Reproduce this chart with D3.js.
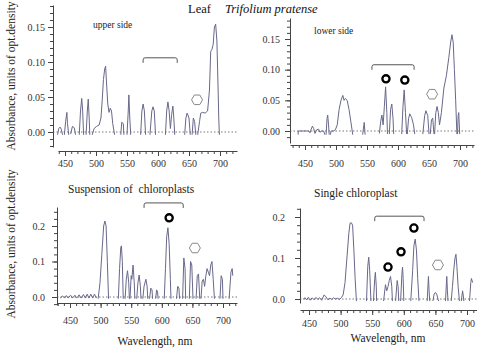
<!DOCTYPE html>
<html><head><meta charset="utf-8">
<script src="https://cdn.jsdelivr.net/npm/d3@7"></script>
<style>body{margin:0;background:#fff}svg{display:block}text{font-family:"Liberation Serif","DejaVu Serif",serif}</style>
</head><body>
<svg id="c" width="477" height="351"></svg>
<script>
// ---------- DATA ----------
const xTickValues = [450, 500, 550, 600, 650, 700];
const yTicksTop = [0, 0.05, 0.10, 0.15];
const yTicksBottom = [0, 0.1, 0.2];

// Leaf, upper side: [wavelength nm, absorbance], null = gap
const upperSide = [
 [438,-.004],[440,.005],[442,.007],[444,.004],[446,-.004],null,
 [449,-.004],[451,.015],[453,.028],[454,.012],[456,-.004],null,
 [459,-.003],[462,.008],[465,.006],[467,-.004],null,
 [473,-.004],[475,.03],[477,.048],[478.5,.03],[480,-.004],null,
 [484,-.004],[486,.03],[487.5,.047],[489,.02],[490,-.004],null,
 [494,-.004],[497,.005],[501,.008],[505,.01],[508,.02],[510,.045],[512,.075],[514,.09],[515.5,.094],[517,.07],[519,.04],[521,.028],[523,.034],[525,.03],[527,.012],[530,-.004],null,
 [540,-.004],[541.5,.014],[544,.012],[545,-.004],null,
 [550,-.004],[552,.03],[553,.053],[554.5,.02],[556,-.004],null,
 [572,-.004],[574,.03],[576,.04],[578,.03],[580,-.004],null,
 [587,-.004],[590,.03],[592,.036],[594,.03],[596,-.004],null,
 [612,-.004],[614,.03],[616,.043],[618,.03],[620,.005],[622,.025],[624,.037],[625.5,.02],[627,-.004],null,
 [643,-.004],[645,.02],[647,.027],[650,.02],[652,-.004],null,
 [655,-.004],[657,.02],[659,.015],[661,-.004],null,
 [664,-.004],[667,.015],[669,.027],[672,.028],[676,.027],[680,.03],[683,.06],[685,.115],[687,.118],[689,.125],[691,.15],[693,.154],[695,.13],[697,.06],[698,.02],[699,-.004]
];

// Leaf, lower side
const lowerSide = [
 [439,-.006],[439,0],[445,0],[452,0],[456,0],[458,-.003],[460,.003],[462,.008],[464,.004],[466,-.004],[469,.002],[472,.003],[474,-.002],[477,0],[480,0],[482,-.006],null,
 [484,-.006],[485.5,.02],[486.6,.026],[488,.01],[489,-.006],null,
 [491,-.006],[492,0],[496,0],[499,.002],[502,.01],[505,.035],[508,.05],[511,.058],[513,.05],[515,.053],[518,.05],[521,.035],[524,.015],[527,-.006],null,
 [543,-.006],[545.5,.014],[547,-.006],null,
 [570,-.004],[572,.015],[574,.026],[576,.01],[578,.04],[580,.072],[582,.03],[583,-.005],null,
 [586,-.005],[588,.035],[590,.044],[592,.02],[593,-.005],null,
 [606,-.005],[608,.04],[610,.067],[612,.03],[614,-.005],null,
 [615,-.005],[617,.02],[619,.028],[622,.022],[625,.01],[627,-.005],null,
 [640,-.005],[643,.025],[645,.033],[648,.025],[650,-.005],null,
 [652,-.005],[654,.018],[656,.021],[658,-.005],null,
 [659,-.005],[661,.03],[663,.04],[665,.03],[667,.01],[670,.03],[674,.07],[678,.09],[682,.12],[685,.145],[687,.157],[689,.145],[691,.1],[693,.05],[695,-.005],null,
 [696,-.005],[697,.025],[698,.03],[699.5,-.005]
];

// Suspension of chloroplasts
const suspension = [
 [434,-.003],[438,.003],[441,-.003],[444,.004],[447,-.003],[451,.005],[454,-.003],[458,.005],[461,-.003],[465,.006],[468,-.003],[472,.007],[475,-.003],[478,.008],[481,-.003],[484,.008],[487,-.003],[490,.008],[493,-.003],null,
 [496,-.005],[499,.04],[502,.12],[505,.2],[507,.214],[509,.2],[511,.1],[513,-.005],null,
 [529,-.005],[531,.08],[533,.14],[534,.144],[535.5,.1],[537,-.005],null,
 [540,-.005],[542,.05],[544,.074],[546,.04],[547,-.005],null,
 [548,-.005],[550,.06],[551,.05],[553,.09],[555,.04],[556,-.005],null,
 [559,-.005],[561,.04],[563,.062],[565,.03],[566,-.005],null,
 [569,-.005],[571,.03],[574,.05],[576,.03],[577,-.005],null,
 [580,-.005],[582,.025],[584,.02],[585,-.005],null,
 [590,-.005],[591.5,.02],[593,.015],[594,-.005],null,
 [604,-.005],[606,.08],[608,.17],[610,.195],[612,.15],[614,.05],[615,-.005],null,
 [624,-.005],[626,.03],[628,.025],[629,-.005],null,
 [634,-.005],[636,.11],[638,.08],[639,-.005],null,
 [645,-.005],[647,.1],[649,.09],[651,-.005],null,
 [656,-.005],[658,.06],[660,.065],[662,-.005],null,
 [664,-.005],[666,.045],[668,.05],[670,.03],[672,.06],[674,.08],[676,.07],[678,.06],[680,.09],[682,.1],[684,.05],[686,-.005],null,
 [695,-.005],[697,.06],[699,.05],[700,-.005],null,
 [710,-.005],[713,.07],[715,.08],[716,.06]
];

// Single chloroplast
const single = [
 [441,0],[444,.003],[446,-.002],[449,.004],[452,-.003],[455,.003],[458,-.002],[461,.004],[464,-.001],[467,.003],[470,-.003],[474,.01],[477,.005],[480,-.002],[483,.002],[486,-.001],[489,.003],[492,0],[495,.002],[498,-.001],[501,.003],[504,.01],[507,.04],[510,.1],[513,.16],[515,.185],[517,.186],[519,.18],[521,.12],[523,.05],[525,-.005],null,
 [541,-.005],[543,.08],[544.5,.102],[546,.07],[548,-.005],null,
 [552,-.005],[554,.05],[555,.065],[556.5,.03],[557,-.005],null,
 [568,-.005],[571,.035],[573,.02],[575,.03],[577,.045],[579,.055],[581,.03],[582,-.005],null,
 [587,-.005],[589.5,.045],[591,.03],[592,-.005],null,
 [595,-.005],[597,.06],[598,.078],[599,.05],[600,-.005],null,
 [611,-.005],[614,.07],[616,.13],[618,.146],[620,.12],[622,.05],[624,-.005],null,
 [637,-.005],[639,.055],[640,.02],[641,-.005],null,
 [646,-.005],[648,.012],[650,.016],[652,.012],[655,-.005],null,
 [666,-.005],[668,.055],[669,.02],[670,-.005],null,
 [675,-.005],[677,.03],[679,.07],[681,.1],[682.5,.109],[684,.08],[686,.03],[688,-.005],null,
 [691,-.005],[693,.02],[694,.01],[695,-.005],null,
 [704,-.005],[706,.04],[707,.05],[709,.04]
];

// Annotation anchors in data coordinates
const upperMarks = {bracket:[576,631,.106], circles:[], hex:[663,.046]};
const lowerMarks = {bracket:[558,626,.108], circles:[[580.6,.085],[611,.083]], hex:[655,.06]};
const suspMarks = {bracket:[571,635,.265], circles:[[612,.223]], hex:[654,.138]};
const singleMarks = {bracket:[554,632,.202], circles:[[575,.078],[595.6,.115],[616,.173]], hex:[654,.083]};

// ---------- LAYOUT ----------
const panels = [
 {data:upperSide, marks:upperMarks, xr:[65,220], yr:[132,27], yTop:.15, ticks:yTicksTop, fmt:".2f", minor:.01,
  yAxisX:53, yAxisPix:[5,147], xAxisY:151, xAxisPix:[58,237], xPad:3.5, yPad:3, dotEnd:237},
 {data:lowerSide, marks:lowerMarks, xr:[305,460], yr:[131,39], yTop:.15, ticks:yTicksTop, fmt:".2f", minor:.01,
  yAxisX:290, yAxisPix:[18,143], xAxisY:145, xAxisPix:[290,474], xPad:9.5, yPad:5, dotEnd:474},
 {data:suspension, marks:suspMarks, xr:[70,223], yr:[297,226], yTop:.2, ticks:yTicksBottom, fmt:".1f", minor:.02,
  yAxisX:57, yAxisPix:[207,305], xAxisY:303, xAxisPix:[57,237], xPad:9, yPad:7, dotEnd:237},
 {data:single, marks:singleMarks, xr:[309,467], yr:[299,217], yTop:.2, ticks:yTicksBottom, fmt:".1f", minor:.02,
  yAxisX:300, yAxisPix:[208,303], xAxisY:310, xAxisPix:[300,477], xPad:4.5, yPad:10, dotEnd:477}
];

const svg = d3.select("#c");
const lineColor = "#68688a", axisColor = "#444";
const serif = '"Liberation Serif","DejaVu Serif",serif';

panels.forEach(p => {
  const x = d3.scaleLinear().domain([450, 700]).range(p.xr);
  const y = d3.scaleLinear().domain([0, p.yTop]).range(p.yr);
  const g = svg.append("g");

  // y axis (extended scale so domain line spans full axis)
  const ya = y.copy().domain([y.invert(p.yAxisPix[0]), y.invert(p.yAxisPix[1])]).range(p.yAxisPix);
  const yMinor = d3.range(Math.ceil(ya.domain()[1] / p.minor - 1e-9), Math.floor(ya.domain()[0] / p.minor + 1e-9) + 1).map(i => +(i * p.minor).toFixed(4));
  g.append("g").attr("transform", `translate(${p.yAxisX},0)`)
    .call(d3.axisLeft(ya).tickValues(yMinor).tickSize(3).tickSizeOuter(0).tickFormat(""))
    .call(s => s.selectAll("path,line").attr("stroke", axisColor));
  g.append("g").attr("transform", `translate(${p.yAxisX},0)`)
    .call(d3.axisLeft(ya).tickValues(p.ticks).tickSize(5).tickPadding(p.yPad).tickFormat(d3.format(p.fmt)))
    .attr("font-family", serif)
    .call(s => { s.select(".domain").remove(); s.selectAll("line").attr("stroke", axisColor);
      s.selectAll("text").attr("font-size", 10).attr("fill", "#333"); });

  // x axis
  const xa = x.copy().domain([x.invert(p.xAxisPix[0]), x.invert(p.xAxisPix[1])]).range(p.xAxisPix);
  const d0 = xa.domain();
  const xMinor = d3.range(Math.ceil(d0[0] / 10), Math.floor(d0[1] / 10) + 1).map(i => i * 10);
  g.append("g").attr("transform", `translate(0,${p.xAxisY})`)
    .call(d3.axisBottom(xa).tickValues(xMinor).tickSize(3).tickSizeOuter(0).tickFormat(""))
    .call(s => s.selectAll("path,line").attr("stroke", axisColor));
  g.append("g").attr("transform", `translate(0,${p.xAxisY})`)
    .call(d3.axisBottom(xa).tickValues(xTickValues).tickSize(5).tickPadding(p.xPad).tickFormat(d3.format("d")))
    .attr("font-family", serif)
    .call(s => { s.select(".domain").remove(); s.selectAll("line").attr("stroke", axisColor);
      s.selectAll("text").attr("font-size", 10).attr("fill", "#333"); });

  // dotted zero line
  g.append("line").attr("x1", p.yAxisX).attr("x2", p.dotEnd).attr("y1", y(0)).attr("y2", y(0))
    .attr("stroke", "#555").attr("stroke-width", 0.8).attr("stroke-dasharray", "1.5,2");

  // spectrum
  const line = d3.line().defined(d => d !== null).x(d => x(d[0])).y(d => y(d[1]));
  g.append("path").datum(p.data).attr("d", line).attr("fill", "none")
    .attr("stroke", lineColor).attr("stroke-width", 1);

  // bracket
  const [b0, b1, bv] = p.marks.bracket;
  const bx0 = x(b0), bx1 = x(b1), by = y(bv);
  g.append("path").attr("d", `M${bx0},${by + 5} V${by + 2} Q${bx0},${by} ${bx0 + 2},${by} H${bx1 - 2} Q${bx1},${by} ${bx1},${by + 2} V${by + 5}`)
    .attr("fill", "none").attr("stroke", "#555").attr("stroke-width", 1);

  // circles
  p.marks.circles.forEach(c => {
    g.append("circle").attr("cx", x(c[0])).attr("cy", y(c[1])).attr("r", 3.6)
      .attr("fill", "none").attr("stroke", "#000").attr("stroke-width", 2.3);
  });

  // hexagon
  const hx = x(p.marks.hex[0]), hy = y(p.marks.hex[1]);
  const hexPts = d3.range(6).map(i => { const a = Math.PI / 3 * i; return [hx + 5.5 * Math.cos(a), hy + 5.5 * Math.sin(a)]; });
  g.append("path").attr("d", "M" + hexPts.join("L") + "Z").attr("fill", "none")
    .attr("stroke", "#888").attr("stroke-width", 1);
});

// ---------- TEXT ----------
const t = svg.append("text").attr("x", 188).attr("y", 13).attr("font-size", 12.5).attr("fill", "#111");
t.append("tspan").text("Leaf");
t.append("tspan").attr("dx", 14).attr("font-style", "italic").text("Trifolium pratense");

svg.append("text").attr("x", 93).attr("y", 28).attr("font-size", 9.5).attr("fill", "#222").text("upper side");
svg.append("text").attr("x", 314).attr("y", 34).attr("font-size", 9.5).attr("fill", "#222").text("lower side");
svg.append("text").attr("x", 68).attr("y", 193).attr("font-size", 11.5).attr("fill", "#222").style("white-space", "pre").text("Suspension of  chloroplasts");
svg.append("text").attr("x", 314).attr("y", 197).attr("font-size", 11.5).attr("fill", "#222").text("Single chloroplast");
svg.append("text").attr("x", 155).attr("y", 345).attr("text-anchor", "middle").attr("font-size", 11.5).attr("fill", "#222").text("Wavelength, nm");
svg.append("text").attr("x", 388).attr("y", 342).attr("text-anchor", "middle").attr("font-size", 11.5).attr("fill", "#222").text("Wavelength, nm");
svg.append("text").attr("transform", "translate(15,76) rotate(-90)").attr("text-anchor", "middle").attr("font-size", 11.5).attr("fill", "#222").text("Absorbance, units of opt.density");
svg.append("text").attr("transform", "translate(15,244) rotate(-90)").attr("text-anchor", "middle").attr("font-size", 11.5).attr("fill", "#222").text("Absorbance, units of opt.density");
</script>
</body></html>
